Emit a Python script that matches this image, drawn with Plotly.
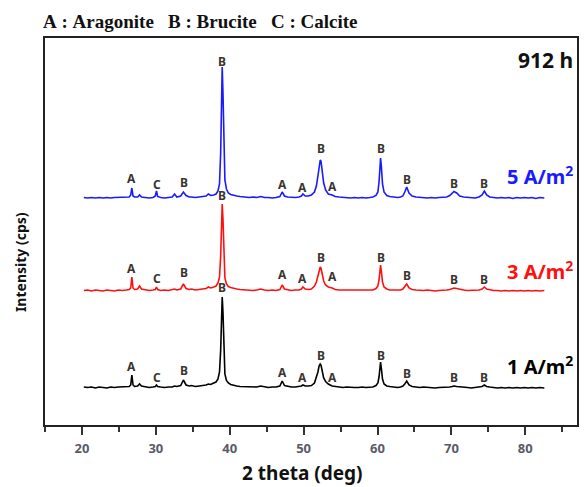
import plotly.graph_objects as go

# ---- data (2 theta in degrees, intensity above each pattern's baseline, a.u.) ----
two_theta = [
    20.0, 20.5, 21.0, 21.5, 22.0, 22.5, 23.0, 23.5, 24.0, 24.5,
    25.0, 25.5, 25.9, 26.1, 26.25, 26.4, 26.6, 27.0, 27.25, 27.5,
    28.0, 28.5, 29.0, 29.3, 29.45, 29.6, 30.0, 30.5, 31.0, 31.5,
    31.8, 32.1, 32.6, 32.95, 33.3, 33.7, 34.0, 34.5, 35.0, 35.5,
    35.9, 36.2, 36.5, 36.9,
    37.2, 37.45, 37.65, 37.8, 37.9, 38.0, 38.1, 38.2, 38.35, 38.55, 38.8, 39.1, 39.5,
    39.9, 40.3, 41.0, 41.5, 42.0, 42.5, 43.0, 43.5, 44.0, 44.5,
    45.0, 45.5, 45.8, 46.1, 46.5, 47.0, 47.5, 48.0, 48.3, 48.5, 48.8, 49.2, 49.6,
    50.0, 50.25, 50.45, 50.6, 50.75, 50.85, 51.0, 51.2, 51.45, 51.8,
    52.3, 52.7, 53.2, 53.7, 54.2, 54.7, 55.2, 55.7, 56.2, 56.7, 57.2, 57.6,
    58.0, 58.25, 58.4, 58.5, 58.6, 58.7, 58.85, 59.05, 59.4,
    59.8, 60.3, 60.8, 61.2, 61.5, 61.75, 62.0, 62.3, 62.7,
    63.2, 63.7, 64.2, 64.7, 65.2, 65.7, 66.2, 66.7, 67.2, 67.6,
    67.9, 68.15, 68.5, 68.9, 69.4, 69.9, 70.4, 70.9, 71.4, 71.8,
    72.1, 72.4, 72.8, 73.3, 73.8, 74.3, 74.8, 75.3, 75.8, 76.3,
    76.8, 77.3, 77.8, 78.3, 78.8, 79.3, 79.9,
]

int_5A = [
    0.5, 0, 0.5, 0, 0.5, 0, 0.5, 0, 0.5, 0.5,
    0.5, 0.5, 1, 3, 10, 2, 1, 1, 3, 1,
    0.5, 0, 0.5, 2, 7, 1.5, 0.5, 0, 0.5, 1,
    4, 1, 2, 6, 2.5, 1, 1, 0.5, 1, 1.5,
    2, 4, 2.5, 3,
    4, 7, 14, 45, 105, 131, 105, 50, 18, 9, 5, 3.5, 2.5,
    2, 1.5, 1, 0.5, 1, 0.5, 1.5, 0.5, 0.5, 0,
    0.5, 1.5, 6, 2, 1, 0.5, 0.5, 1, 2, 4, 2, 2, 3,
    6, 12, 22, 32, 38, 37, 28, 15, 8, 4,
    3, 1.5, 1, 0.5, 0.5, 0, 0.5, 0, 0.5, 0, 0.5, 1,
    2.5, 6, 16, 32, 40, 32, 14, 6, 2.5,
    1.5, 1, 0.5, 1, 2, 6, 11, 5, 2,
    1, 0.5, 0.5, 0, 0.5, 0, 0.5, 0.5, 1, 2.5,
    5, 6.5, 5, 2, 1, 0.5, 0.5, 0, 1, 3,
    7, 3, 1, 0.5, 0, 0.5, 0, 0.5, -0.5, 0.5,
    0, 0.5, 0, 0.5, -0.5, 0.5, 0,
]

int_3A = [
    0.5, 1, 0, 1, 0.5, 0, 1, 0.5, 0, 1,
    0.5, 1, 1.5, 3, 14, 3, 1.5, 2, 5, 2,
    1, 0.5, 1, 1.5, 4, 1.5, 0.5, 1, 0.5, 1,
    2, 1, 2, 7, 2.5, 1.5, 2, 1, 1.5, 2,
    2.5, 4, 3, 4,
    5, 8, 14, 35, 72, 87, 72, 35, 13, 7, 4.5, 3.5, 2.5,
    2, 1.5, 1, 1, 0.5, 1, 2, 1, 0.5, 1,
    0.5, 1.5, 6, 2, 1, 0.5, 1, 1, 2, 4, 2, 1.5, 2,
    5, 9, 15, 21, 24, 23, 18, 10, 6, 4,
    3, 1.5, 1, 1, 0.5, 1, 0.5, 0.5, 1, 0.5, 0.5, 1,
    2.5, 5, 11, 21, 26, 20, 9, 4, 2,
    1, 1, 0.5, 1, 2, 4, 7, 3, 1.5,
    1, 0.5, 0.5, 1, 0.5, 0, 0.5, 0.5, 1, 1.5,
    2.5, 3, 2.5, 1.5, 1, 0.5, 0.5, 0.5, 1, 2,
    4, 2, 1, 0.5, 0.5, 0, 0.5, 0, 0.5, 0,
    0.5, 0, 0.5, 0, 0.5, 0, 0.5,
]

int_1A = [
    1, 0.5, 1, 0, 1, 0.5, 0, 1, 0.5, 1,
    1, 1, 1.5, 3, 13, 3, 1.5, 2, 4, 2,
    1, 0.5, 1, 1.5, 3, 1.5, 1, 0.5, 1, 1,
    2, 1.5, 2.5, 8, 3, 2, 2.5, 1.5, 2, 2.5,
    3, 4, 3.5, 5,
    6, 9, 16, 38, 76, 91, 76, 38, 14, 7.5, 5, 3.5, 2.5,
    2, 1.5, 1.5, 1, 1, 1, 2, 1, 0.5, 1,
    1, 2, 7, 2.5, 1.5, 1, 1, 1.5, 2, 3, 2, 2, 2.5,
    5, 10, 16, 22, 24, 23, 18, 10, 6.5, 4,
    2, 1.5, 1, 0.5, 1, 0.5, 0.5, 0.5, 1, 0.5, 1, 1,
    2.5, 5, 11, 21, 26, 20, 9, 4, 2,
    1.5, 1, 0.5, 1, 2, 4, 7, 3, 1.5,
    1, 0.5, 1, 0.5, 0.5, 0, 0.5, 0.5, 0.5, 1,
    1.5, 2, 1.5, 1, 0.5, 0.5, 0, 0.5, 1, 1.5,
    3, 1.5, 1, 0.5, 0, 0.5, 0, 0.5, 0, 0.5,
    0, 0.5, 0, 0.5, 0, 0.5, 0,
]

series_names = ["1 A/m<sup>2</sup>", "3 A/m<sup>2</sup>", "5 A/m<sup>2</sup>"]
series_offsets = [37, 134, 227]

# phase labels: A = aragonite, B = brucite, C = calcite
label_phase = ["A", "C", "B", "B", "A", "A", "B", "A", "B", "B", "B", "B"]
label_2theta = [26.26, 29.46, 33.0, 38.0, 45.8, 48.5, 50.8, 52.3, 58.6, 62.0, 68.15, 72.1]
label_h_1A = [22, 11, 18, 101, 16, 11, 33, 11, 33, 14.5, 11, 11]
label_h_3A = [23, 13, 19, 95.5, 17, 13, 34, 14.5, 34, 15.5, 12, 12]
label_h_5A = [20, 14, 16, 137, 14, 10.5, 50, 11.5, 50, 19, 15, 15]

colors = ["#000000", "#ff1010", "#1a1aff"]

assert len(two_theta) == len(int_1A) == len(int_3A) == len(int_5A)

# ---- figure ----
fig = go.Figure()
# empty trace so the main (tick-bearing) x axis is drawn
fig.add_trace(go.Scatter(x=[], y=[], xaxis="x", yaxis="y", showlegend=False,
                         hoverinfo="skip"))
for ints, off, col in zip([int_1A, int_3A, int_5A], series_offsets, colors):
    fig.add_trace(go.Scatter(
        x=two_theta, y=[v + off for v in ints], mode="lines",
        line=dict(color=col, width=1.6), xaxis="x2", yaxis="y",
        showlegend=False, hoverinfo="skip"))

annotations = []
for heights, off in zip([label_h_1A, label_h_3A, label_h_5A], series_offsets):
    for ph, tt, h in zip(label_phase, label_2theta, heights):
        annotations.append(dict(
            x=tt, y=off + h, xref="x2", yref="y", text=ph, showarrow=False,
            xanchor="center", yanchor="middle",
            font=dict(family="Noto Sans", size=12, color="#3a3530", weight="bold")))

W = 534.0
H = 387.0
def px(xp):
    return (xp - 45) / W
def py(yp):
    return (425 - yp) / H

label_y_px = [365, 270, 175]
for name, col, yp in zip(series_names, colors, label_y_px):
    annotations.append(dict(
        x=px(577), y=py(yp), xref="paper", yref="paper", text=name,
        showarrow=False, xanchor="right", yanchor="middle",
        font=dict(family="Noto Sans", size=20, color=col, weight="bold")))

annotations.append(dict(
    x=px(577), y=py(60), xref="paper", yref="paper", text="912 h",
    showarrow=False, xanchor="right", yanchor="middle",
    font=dict(family="Noto Sans", size=21, color="#111111", weight="bold")))

annotations.append(dict(
    x=px(41), y=py(21), xref="paper", yref="paper",
    text="A\u00a0:\u00a0Aragonite\u00a0\u00a0\u00a0B\u00a0:\u00a0Brucite\u00a0\u00a0\u00a0C\u00a0:\u00a0Calcite",
    showarrow=False, xanchor="left", yanchor="middle",
    font=dict(family="Liberation Serif", size=19, color="#111111", weight="bold")))

annotations.append(dict(
    x=px(303), y=py(473), xref="paper", yref="paper", text="2 theta (deg)",
    showarrow=False, xanchor="center", yanchor="middle", borderpad=0,
    font=dict(family="Noto Sans", size=19, color="#111111", weight="bold")))

annotations.append(dict(
    x=px(20), y=py(262), xref="paper", yref="paper", text="Intensity (cps)",
    showarrow=False, xanchor="center", yanchor="middle", textangle=-90,
    font=dict(family="Noto Sans", size=14, color="#111111", weight="bold")))

fig.update_layout(
    width=584, height=487,
    margin=dict(l=45, r=5, t=38, b=62),
    paper_bgcolor="white", plot_bgcolor="white",
    annotations=annotations,
    xaxis=dict(
        range=[15, 87], tick0=20, dtick=10, ticks="outside", ticklen=8,
        tickwidth=2, tickcolor="#333333", showline=True, linecolor="#222222",
        linewidth=2, mirror=True, showgrid=False, zeroline=False,
        ticklabelstandoff=2,
        tickfont=dict(family="Noto Sans", size=13, color="#5a5a66", weight="bold"),
        minor=dict(dtick=5, tick0=15, ticks="outside", ticklen=5, tickwidth=2,
                   tickcolor="#333333", showgrid=False),
    ),
    xaxis2=dict(range=[14.95, 84.15], overlaying="x", visible=False),
    yaxis=dict(
        range=[0, 387], showticklabels=False, ticks="", showline=True,
        linecolor="#222222", linewidth=2, mirror=True, showgrid=False,
        zeroline=False,
    ),
)

fig.write_html("out.html")
